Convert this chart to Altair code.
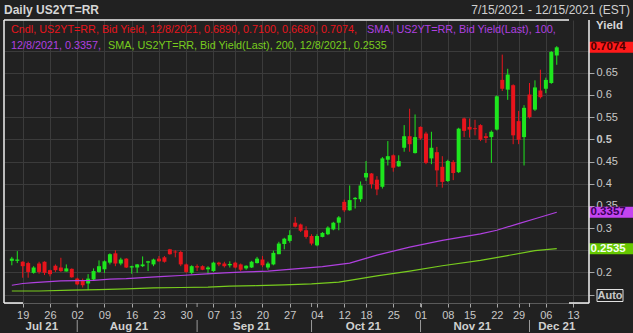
import json
import altair as alt
import pandas as pd

# ---------------- data ----------------
holidays = ["2021-09-06", "2021-10-11", "2021-11-11", "2021-11-25"]
trading_days = [d.strftime("%Y-%m-%d") for d in pd.bdate_range("2021-07-15", "2021-12-15")
                if d.strftime("%Y-%m-%d") not in holidays]
day_idx = {d: i for i, d in enumerate(trading_days)}

opens = [.226, .226, .224, .221, .199, .220, .224, .205, .215, .211, .202, .208,
         .186, .182, .175, .184, .201, .207, .222, .243, .220, .231, .211, .211, .214, .222, .218,
         .231, .234, .252, .247, .246, .218, .199,
         .214, .214, .207, .203, .222, .220, .216, .222, .218, .209, .211, .221, .229, .211, .218,
         .241, .264, .271, .312, .308, .295,
         .282, .261, .280, .286, .297, .312, .359, .340, .365, .365, .414, .423, .409, .393, .454,
         .464, .439, .481, .507, .469,
         .528, .513, .457, .471, .438, .406, .449, .426, .547, .528, .525, .532, .507, .505, .522,
         .634, .612, .622, .541, .505,
         .601, .567, .610, .614, .627, .689]
highs = [.235, .248, .225, .224, .214, .224, .225, .206, .218, .233, .218, .209,
         .188, .186, .196, .209, .227, .227, .243, .250, .233, .232, .215, .219, .236, .226, .231,
         .237, .237, .253, .250, .249, .220, .216,
         .218, .216, .214, .224, .224, .224, .225, .224, .220, .216, .226, .235, .237, .224, .249,
         .269, .278, .295, .325, .310, .304,
         .286, .286, .291, .304, .314, .327, .364, .396, .370, .405, .451, .424, .417, .460, .496,
         .466, .464, .532, .569, .556,
         .529, .517, .517, .483, .462, .454, .453, .526, .549, .547, .544, .534, .514, .520, .599,
         .691, .659, .624, .564, .577,
         .627, .633, .657, .639, .699, .710]
lows = [.216, .221, .188, .188, .197, .197, .194, .191, .201, .201, .202, .188,
        .171, .166, .160, .182, .199, .199, .218, .214, .216, .210, .197, .199, .212, .203, .214,
        .224, .222, .240, .234, .214, .199, .196,
        .203, .205, .196, .201, .214, .211, .211, .209, .203, .206, .210, .220, .212, .206, .216,
        .241, .252, .267, .301, .291, .276,
        .261, .259, .279, .284, .295, .295, .336, .339, .344, .359, .406, .389, .374, .389, .441,
        .427, .438, .472, .472, .468,
        .499, .444, .444, .393, .391, .404, .408, .424, .505, .504, .509, .496, .492, .447, .520,
        .609, .589, .489, .489, .441,
        .547, .564, .592, .604, .625, .668]
closes = [.231, .229, .214, .201, .211, .201, .199, .196, .205, .203, .209, .189,
          .173, .171, .186, .203, .214, .225, .241, .220, .229, .211, .214, .218, .218, .225, .229,
          .225, .224, .241, .245, .218, .201, .214,
          .211, .206, .211, .222, .218, .214, .219, .211, .206, .215, .224, .231, .216, .220, .244,
          .265, .276, .284, .303, .294, .280,
          .265, .282, .289, .301, .312, .324, .340, .363, .368, .396, .424, .399, .387, .457, .462,
          .436, .451, .507, .489, .505,
          .502, .447, .481, .430, .404, .451, .424, .524, .519, .522, .523, .499, .503, .517, .597,
          .614, .646, .509, .499, .571,
          .550, .617, .595, .634, .697, .7074]

sma100_dates = ["2021-07-15", "2021-07-19", "2021-07-21", "2021-07-28", "2021-08-05", "2021-08-10",
                "2021-08-13", "2021-08-18", "2021-08-24", "2021-08-27", "2021-09-02", "2021-09-09",
                "2021-09-15", "2021-09-21", "2021-09-28", "2021-10-05", "2021-10-13", "2021-10-20",
                "2021-10-28", "2021-11-05", "2021-11-17", "2021-11-22", "2021-11-29", "2021-12-02",
                "2021-12-08"]
sma100_vals = [.171, .175, .177, .181, .182, .185, .186, .188, .191, .193, .196, .199,
               .201, .203, .208, .213, .221, .239, .257, .272, .287, .295, .310, .321, .3357]

sma200_dates = ["2021-07-15", "2021-07-22", "2021-07-30", "2021-08-06", "2021-08-13", "2021-08-20",
                "2021-08-27", "2021-09-03", "2021-09-10", "2021-09-17", "2021-09-24", "2021-10-01",
                "2021-10-08", "2021-10-13", "2021-10-20", "2021-10-28", "2021-11-05", "2021-11-17",
                "2021-11-24", "2021-12-02", "2021-12-08"]
sma200_vals = [.158, .158, .160, .161, .163, .165, .166, .167, .169, .170, .172, .174,
               .178, .182, .192, .203, .215, .227, .238, .249, .2535]

week_dates = ["2021-07-19", "2021-07-26", "2021-08-02", "2021-08-09", "2021-08-16", "2021-08-23",
              "2021-08-30", "2021-09-07", "2021-09-13", "2021-09-20", "2021-09-27", "2021-10-04",
              "2021-10-12", "2021-10-18", "2021-10-25", "2021-11-01", "2021-11-08", "2021-11-15",
              "2021-11-22", "2021-11-29", "2021-12-06", "2021-12-13"]
week_labels = ["19", "26", "02", "09", "16", "23", "30", "07", "13", "20", "27", "04",
               "12", "18", "25", "01", "08", "15", "22", "29", "06", "13"]

month_labels = ["Jul 21", "Aug 21", "Sep 21", "Oct 21", "Nov 21", "Dec 21"]
month_centers = [5.5, 21.5, 44, 64.5, 84.5, 100]
month_starts = ["2021-08-02", "2021-09-01", "2021-10-01", "2021-11-01", "2021-12-01"]

y_ticks = [0.15, 0.2, 0.25, 0.3, 0.35, 0.4, 0.45, 0.5, 0.55, 0.6, 0.65, 0.7]
y_hidden_labels = [0.15, 0.25, 0.7]   # covered by the Auto / value boxes in the reference

# ---------------- styling ----------------
BG = "#212121"
GRID = "#3b3b3b"
TXT = "#c8c8c8"
UP = "#1ee61e"
DOWN = "#e8141c"
PURPLE = "#b040e0"
LIME = "#78cc1e"
FONT = "Liberation Sans"

W, H = 585, 283

n = len(opens)
candles = pd.DataFrame({
    "idx": list(range(n)),
    "open": opens, "high": highs, "low": lows, "close": closes,
})
candles["dir"] = ["up" if c >= o else "down" for o, c in zip(opens, closes)]

sma100 = pd.DataFrame({"idx": [day_idx[d] for d in sma100_dates], "v": sma100_vals})
sma200 = pd.DataFrame({"idx": [day_idx[d] for d in sma200_dates], "v": sma200_vals})

week_idx = [day_idx[d] for d in week_dates]
label_expr = f"{json.dumps(week_labels)}[indexof({json.dumps(week_idx)}, datum.value)]"
hide_test = " || ".join(f"abs(datum.value - {v}) < 0.001" for v in y_hidden_labels)

xs = alt.Scale(domain=[-0.52, 105], nice=False, zero=False)
ys = alt.Scale(domain=[0.131, 0.769], nice=False, zero=False)

x_axis = alt.Axis(values=week_idx, labelExpr=label_expr, grid=True, orient="bottom",
                  tickSize=4, labelPadding=2, domain=True, title=None,
                  labelFlush=False, labelOverlap=False)
y_axis = alt.Axis(values=y_ticks, orient="right", grid=True,
                  tickSize=5, labelPadding=2, domain=False, title=None,
                  labelExpr=f"({hide_test}) ? '' : format(datum.value, '.2~f')",
                  labelFontWeight={"condition": {"test": "abs(datum.value - 0.5) < 0.001", "value": "bold"},
                                   "value": "normal"},
                  labelFlush=False, labelOverlap=False)


def X(f):
    return alt.X(f, scale=xs, axis=x_axis)


def Y(f):
    return alt.Y(f, scale=ys, axis=y_axis)


base = alt.Chart(candles)
up = base.transform_filter("datum.dir == 'up'")
down = base.transform_filter("datum.dir == 'down'")

wick_up = up.mark_rule(strokeWidth=1, color=UP).encode(x=X("idx:Q"), y=Y("low:Q"), y2="high:Q")
wick_dn = down.mark_rule(strokeWidth=1, color=DOWN).encode(x=X("idx:Q"), y=Y("low:Q"), y2="high:Q")
body_up = up.mark_bar(size=4, color=UP).encode(x=X("idx:Q"), y=Y("open:Q"), y2="close:Q")
body_dn = down.mark_bar(size=4, color=DOWN).encode(x=X("idx:Q"), y=Y("open:Q"), y2="close:Q")

line100 = alt.Chart(sma100).mark_line(color=PURPLE, strokeWidth=1.2).encode(x=X("idx:Q"), y=Y("v:Q"))
line200 = alt.Chart(sma200).mark_line(color=LIME, strokeWidth=1.2).encode(x=X("idx:Q"), y=Y("v:Q"))

one = pd.DataFrame({"a": [0]})


def txt(s, x, y, col, size=10.8, weight="normal", align="left"):
    return alt.Chart(one).mark_text(text=s, align=align, baseline="middle", color=col,
                                    fontSize=size, fontWeight=weight, font=FONT).encode(
        x=alt.value(x), y=alt.value(y))


legend_layers = [
    txt("Cndl, US2YT=RR, Bid Yield,  12/8/2021, 0.6890, 0.7100, 0.6680, 0.7074,", 7, 9.5, DOWN),
    txt("SMA, US2YT=RR, Bid Yield(Last),  100,", 363, 9.5, PURPLE),
    txt("12/8/2021, 0.3357,", 7, 26, PURPLE),
    txt("SMA, US2YT=RR, Bid Yield(Last),  200,  12/8/2021, 0.2535", 104, 26, LIME),
]

header_layers = [
    txt("Daily US2YT=RR", 0, -10, "#d6d6d6", size=12, weight="bold"),
    txt("7/15/2021 - 12/15/2021 (EST)", 626, -10, "#d0d0d0", size=12, align="right"),
    txt("Yield", 592, 6, "#d6d6d6", size=11.5, weight="bold"),
]

# value boxes at the right axis
box_values = [closes[-1], sma100_vals[-1], sma200_vals[-1]]
box_fills = ["#ff1a1a", "#c444f0", "#66c800"]
box_inks = ["#4a0000", "#3a0056", "#f4fff0"]
box_layers = []
for v, fill, ink in zip(box_values, box_fills, box_inks):
    d = pd.DataFrame({"v": [v], "label": [f"{v:.4f}"]})
    box_layers.append(alt.Chart(d).mark_point(
        shape="M-1,-0.25L1,-0.25L1,0.25L-1,0.25Z", filled=True, opacity=1, size=44 * 44,
        strokeWidth=0, color=fill).encode(x=alt.value(607), y=Y("v:Q")))
    box_layers.append(alt.Chart(d).mark_text(
        align="left", baseline="middle", fontSize=11.5, fontWeight="bold", font=FONT, color=ink
    ).encode(x=alt.value(586.5), y=Y("v:Q"), text="label:N"))

# Auto box
auto_box = alt.Chart(one).mark_rect(fill=BG, stroke="#e0e0e0", strokeWidth=1).encode(
    x=alt.value(593), x2=alt.value(619), y=alt.value(269.5), y2=alt.value(281.5))
auto_text = txt("Auto", 606, 275.5, TXT, size=11, weight="bold", align="center")

# month row
months = pd.DataFrame({"idx": month_centers, "label": month_labels})
month_text = alt.Chart(months).mark_text(baseline="middle", align="center", fontSize=11.5,
                                         fontWeight="bold", color="#d0d0d0", font=FONT).encode(
    x=X("idx:Q"), y=alt.value(307), text="label:N")
seps = pd.DataFrame({"idx": [day_idx[d] for d in month_starts]})
sep_low = alt.Chart(seps).mark_rule(color="#9a9a9a", strokeWidth=1).encode(
    x=X("idx:Q"), y=alt.value(300), y2=alt.value(312))
sep_up = alt.Chart(seps).mark_rule(color="#9a9a9a", strokeWidth=1).encode(
    x=X("idx:Q"), y=alt.value(283), y2=alt.value(287))


# frame (white, partially open like the reference)
def rule(x1, x2, y1, y2):
    return alt.Chart(one).mark_rule(color="#f0f0f0", strokeWidth=1.5).encode(
        x=alt.value(x1), x2=alt.value(x2), y=alt.value(y1), y2=alt.value(y2))


frame = [rule(0, 0, 0, H), rule(W, W, 0, H), rule(0, 565, 0, 0),
         rule(0, 19, H, H), rule(565, W, H, H)]

chart = alt.layer(
    wick_up, wick_dn, body_up, body_dn, line100, line200,
    *legend_layers, *header_layers, *box_layers, auto_box, auto_text,
    month_text, sep_low, sep_up, *frame
).properties(
    width=W, height=H,
    padding={"left": 4, "top": 20, "right": 44, "bottom": 30},
    autosize=alt.AutoSizeParams(type="none"),
    background=BG,
).configure_view(stroke=None).configure_axis(
    gridColor=GRID, labelColor=TXT, labelFontSize=11, labelFont=FONT, tickColor="#a8a8a8",
    domainColor="#5a5a5a",
)

chart.save("out.html", embed_options={"renderer": "svg", "actions": False})
